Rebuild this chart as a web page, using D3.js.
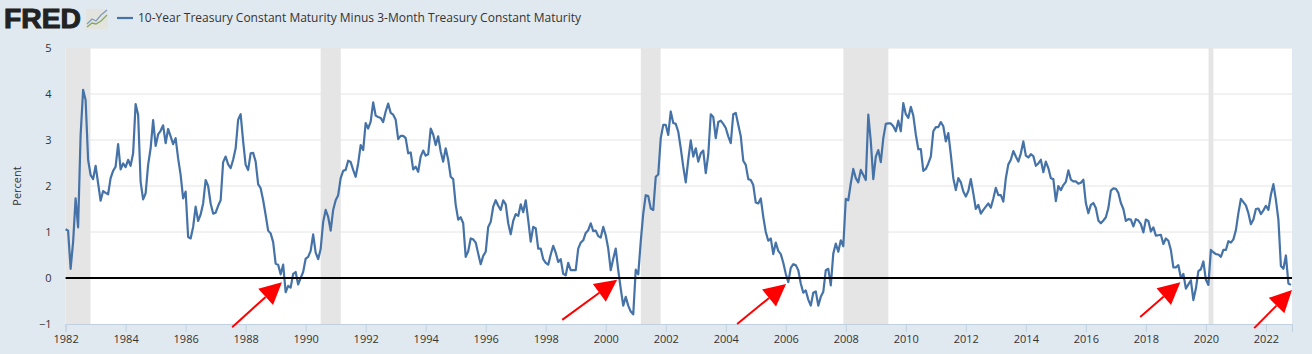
<!DOCTYPE html>
<html>
<head>
<meta charset="utf-8">
<script src="https://cdn.jsdelivr.net/npm/d3@7"></script>
<style>
  html, body { margin: 0; padding: 0; background: #e1e9f0; }
  svg { display: block; }
  text { font-family: "Open Sans", sans-serif; fill: #333; }
</style>
</head>
<body>
<svg id="chart" width="1312" height="354"></svg>
<script>
"use strict";

// T10Y3M monthly, one row per year (Jan 1982 - Nov 2022)
const firstYear = 1982;
const spread = [
  1.06, 1.03, 0.20, 0.78, 1.73, 1.10, 3.10, 4.09, 3.87, 2.57, 2.24, 2.15,
  2.44, 2.06, 1.68, 1.89, 1.85, 1.82, 2.17, 2.33, 2.42, 2.91, 2.36, 2.49,
  2.41, 2.57, 2.44, 2.71, 3.78, 3.55, 2.09, 1.71, 1.84, 2.46, 2.82, 3.43,
  2.87, 3.12, 3.20, 3.32, 2.93, 3.24, 3.08, 2.91, 3.04, 2.60, 2.24, 1.73,
  1.88, 0.89, 0.86, 1.11, 1.55, 1.24, 1.38, 1.62, 2.13, 2.00, 1.62, 1.40,
  1.42, 1.57, 1.69, 2.52, 2.64, 2.47, 2.39, 2.57, 2.82, 3.44, 3.56, 2.97,
  2.46, 2.35, 2.71, 2.72, 2.53, 2.04, 1.95, 1.69, 1.37, 1.03, 0.97, 0.78,
  0.31, 0.29, 0.08, 0.29, -0.31, -0.17, -0.21, 0.09, 0.13, -0.14, 0.00, 0.13,
  0.42, 0.46, 0.59, 0.95, 0.55, 0.41, 0.63, 1.22, 1.48, 1.33, 1.03, 1.48,
  1.69, 1.80, 2.17, 2.33, 2.35, 2.55, 2.52, 2.35, 2.20, 2.49, 2.89, 2.78,
  3.37, 3.25, 3.40, 3.82, 3.53, 3.50, 3.48, 3.39, 3.62, 3.79, 3.59, 3.55,
  3.44, 3.02, 3.09, 3.09, 3.04, 2.71, 2.73, 2.36, 2.42, 2.31, 2.64, 2.77,
  2.66, 2.69, 3.25, 3.12, 2.89, 3.08, 2.75, 2.53, 2.82, 2.57, 2.20, 2.15,
  1.59, 1.27, 1.32, 1.19, 0.46, 0.58, 0.86, 0.84, 0.77, 0.53, 0.30, 0.48,
  0.57, 1.11, 1.22, 1.55, 1.69, 1.57, 1.48, 1.69, 1.60, 1.19, 0.95, 1.24,
  1.39, 1.35, 1.60, 1.43, 1.69, 1.26, 0.79, 1.11, 1.08, 0.64, 0.64, 0.41,
  0.33, 0.29, 0.51, 0.70, 0.55, 0.35, 0.41, 0.09, 0.06, 0.33, 0.17, 0.17,
  0.17, 0.64, 0.77, 0.82, 0.98, 1.04, 1.19, 1.02, 1.03, 0.91, 0.88, 1.11,
  0.93, 0.64, 0.17, 0.42, 0.64, 0.17, -0.23, -0.60, -0.41, -0.60, -0.73, -0.79,
  0.18, 0.08, 0.79, 1.40, 1.80, 1.78, 1.51, 1.48, 2.20, 2.25, 3.04, 3.33,
  3.33, 3.11, 3.62, 3.37, 3.35, 3.18, 2.82, 2.42, 2.08, 2.57, 2.99, 2.64,
  2.82, 2.53, 2.71, 2.77, 2.28, 2.68, 3.56, 3.50, 3.04, 3.39, 3.42, 3.35,
  3.26, 3.08, 2.93, 3.56, 3.59, 3.33, 3.08, 2.55, 2.46, 2.15, 2.13, 2.02,
  1.64, 1.62, 1.73, 1.33, 1.00, 0.81, 0.86, 0.52, 0.77, 0.59, 0.52, 0.33,
  0.09, -0.09, 0.22, 0.30, 0.28, 0.17, -0.12, -0.32, -0.27, -0.47, -0.60, -0.32,
  -0.29, -0.60, -0.41, -0.30, 0.17, 0.20, -0.16, 0.53, 0.75, 0.57, 0.82, 0.69,
  1.72, 1.69, 2.06, 2.37, 2.17, 2.08, 2.35, 2.24, 2.13, 3.55, 2.97, 2.15,
  2.64, 2.78, 2.52, 3.04, 3.35, 3.36, 3.36, 3.30, 3.19, 3.42, 3.19, 3.80,
  3.56, 3.48, 3.72, 3.53, 3.12, 2.80, 2.80, 2.33, 2.37, 2.49, 2.64, 3.19,
  3.28, 3.28, 3.39, 3.30, 2.97, 3.15, 2.68, 2.17, 1.91, 2.17, 2.08, 1.88,
  1.77, 1.89, 2.15, 1.84, 1.50, 1.59, 1.40, 1.48, 1.55, 1.62, 1.53, 1.73,
  1.96, 1.80, 1.80, 1.66, 2.17, 2.47, 2.57, 2.76, 2.64, 2.53, 2.71, 2.97,
  2.66, 2.62, 2.69, 2.65, 2.44, 2.49, 2.57, 2.30, 2.53, 2.39, 2.17, 2.15,
  1.67, 2.00, 1.91, 2.02, 2.09, 2.34, 2.14, 2.10, 2.10, 2.05, 2.07, 2.14,
  1.63, 1.41, 1.59, 1.63, 1.52, 1.25, 1.19, 1.25, 1.32, 1.52, 1.90, 1.95,
  1.94, 1.85, 1.63, 1.50, 1.24, 1.28, 1.27, 1.12, 1.28, 1.25, 1.17, 0.99,
  1.27, 1.24, 1.01, 1.10, 0.92, 0.93, 0.94, 0.74, 0.86, 0.81, 0.61, 0.23,
  0.23, 0.28, 0.00, 0.09, -0.23, -0.14, -0.05, -0.48, -0.23, 0.15, 0.19, 0.36,
  -0.04, -0.15, 0.61, 0.56, 0.52, 0.51, 0.46, 0.61, 0.61, 0.80, 0.77, 0.84,
  1.04, 1.41, 1.72, 1.65, 1.58, 1.41, 1.17, 1.27, 1.50, 1.51, 1.39, 1.47,
  1.57, 1.48, 1.81, 2.04, 1.70, 1.27, 0.26, 0.20, 0.49, -0.12, -0.15
];

const yearTicks = d3.range(1982, 2023, 2);
const percentTicks = [-1, 0, 1, 2, 3, 4, 5];

// NBER recessions in decimal years
const recessionStart = [1982, 1990.5, 2001.17, 2007.92, 2020.09];
const recessionEnd = [1982.83, 1991.17, 2001.83, 2009.42, 2020.25];

// red annotation arrows, in chart units
const arrowTailYear = [1987.55, 1998.55, 2004.38, 2017.81, 2021.61];
const arrowTailPct = [-1.07, -0.91, -1.0, -0.85, -1.09];
const arrowTipYear = [1989.21, 2000.38, 2006.01, 2019.15, 2022.87];
const arrowTipPct = [-0.09, -0.04, -0.13, -0.09, -0.26];

const seriesName = "10-Year Treasury Constant Maturity Minus 3-Month Treasury Constant Maturity";
const lineColor = "#4572a7";

const svg = d3.select("#chart");
const plot = { left: 65.6, right: 1292, top: 48, bottom: 324 };

const x = d3.scaleLinear().domain([firstYear, 2022.87]).range([plot.left, plot.right]);
const y = d3.scaleLinear().domain([-1, 5]).range([plot.bottom, plot.top]);

// plot background
svg.append("rect")
  .attr("x", plot.left).attr("y", plot.top)
  .attr("width", plot.right - plot.left).attr("height", plot.bottom - plot.top)
  .attr("fill", "#fff");

// gridlines
svg.append("g").selectAll("line")
  .data(percentTicks.filter(d => d > -1))
  .join("line")
  .attr("x1", plot.left).attr("x2", plot.right)
  .attr("y1", d => y(d)).attr("y2", d => y(d))
  .attr("stroke", "#e4e4e4").attr("stroke-width", 1);

// recession bands
svg.append("g").selectAll("rect")
  .data(recessionStart)
  .join("rect")
  .attr("x", d => x(d))
  .attr("y", plot.top)
  .attr("width", (d, i) => x(recessionEnd[i]) - x(d))
  .attr("height", plot.bottom - plot.top)
  .attr("fill", "#e5e5e5");

// x axis
const xAxis = svg.append("g")
  .attr("transform", `translate(0,${plot.bottom})`)
  .call(d3.axisBottom(x).tickValues(yearTicks).tickFormat(d3.format("d")).tickSize(8).tickPadding(3));
xAxis.select(".domain").attr("stroke", "#c0d0e0");
xAxis.selectAll(".tick line").attr("stroke", "#c0d0e0");
xAxis.selectAll("text").style("font-size", "11px").attr("fill", "#333");

// y axis, labels only
const yAxis = svg.append("g")
  .attr("transform", `translate(${plot.left},0)`)
  .call(d3.axisLeft(y).tickValues(percentTicks).tickFormat(d3.format("d")).tickSize(0).tickPadding(14));
yAxis.select(".domain").remove();
yAxis.selectAll("text").style("font-size", "11px").attr("fill", "#333");

svg.append("text")
  .attr("transform", "translate(21,186) rotate(-90)")
  .attr("text-anchor", "middle")
  .style("font-size", "11px")
  .text("Percent");

// the series
const line = d3.line()
  .x((d, i) => x(firstYear + i / 12))
  .y(d => y(d));

svg.append("path")
  .datum(spread)
  .attr("d", line)
  .attr("fill", "none")
  .attr("stroke", lineColor)
  .attr("stroke-width", 2.2)
  .attr("stroke-linejoin", "round");

// zero line
svg.append("line")
  .attr("x1", plot.left).attr("x2", plot.right)
  .attr("y1", y(0)).attr("y2", y(0))
  .attr("stroke", "#000").attr("stroke-width", 2);

// arrows
const headLength = 22, headHalf = 11;
const arrows = svg.append("g").selectAll("g")
  .data(arrowTailYear)
  .join("g");

arrows.each(function (d, i) {
  const x0 = x(d), y0 = y(arrowTailPct[i]);
  const x1 = x(arrowTipYear[i]), y1 = y(arrowTipPct[i]);
  const len = Math.hypot(x1 - x0, y1 - y0);
  const ux = (x1 - x0) / len, uy = (y1 - y0) / len;
  const bx = x1 - ux * headLength, by = y1 - uy * headLength;
  const g = d3.select(this);
  g.append("line")
    .attr("x1", x0).attr("y1", y0).attr("x2", bx).attr("y2", by)
    .attr("stroke", "#f00").attr("stroke-width", 2);
  g.append("polygon")
    .attr("points", [
      [x1, y1],
      [bx - uy * headHalf, by + ux * headHalf],
      [bx + uy * headHalf, by - ux * headHalf]
    ].join(" "))
    .attr("fill", "#f00");
});

// legend
svg.append("line")
  .attr("x1", 117).attr("x2", 133).attr("y1", 18).attr("y2", 18)
  .attr("stroke", lineColor).attr("stroke-width", 2.2);
svg.append("text")
  .attr("x", 138).attr("y", 22)
  .attr("textLength", 443)
  .style("font-size", "12px")
  .text(seriesName);

// FRED logo
svg.append("text")
  .attr("x", 4).attr("y", 28)
  .attr("textLength", 77)
  .attr("lengthAdjust", "spacingAndGlyphs")
  .attr("stroke", "#222").attr("stroke-width", 1)
  .style("font-family", "'Liberation Sans', sans-serif")
  .style("font-weight", "bold")
  .style("font-size", "27px")
  .style("fill", "#222")
  .text("FRED");

const logoIcon = svg.append("g").attr("transform", "translate(86,9)");
logoIcon.append("rect")
  .attr("width", 22).attr("height", 20).attr("rx", 1)
  .attr("fill", "#e4e4df");
logoIcon.append("polyline")
  .attr("points", "1,15 6,10 10,12 15,6 21,1")
  .attr("fill", "none").attr("stroke", "#7f9cbf").attr("stroke-width", 1.3);
logoIcon.append("polyline")
  .attr("points", "1,18 6,14 10,15 15,12 21,6")
  .attr("fill", "none").attr("stroke", "#86a85c").attr("stroke-width", 1.3);
</script>
</body>
</html>
